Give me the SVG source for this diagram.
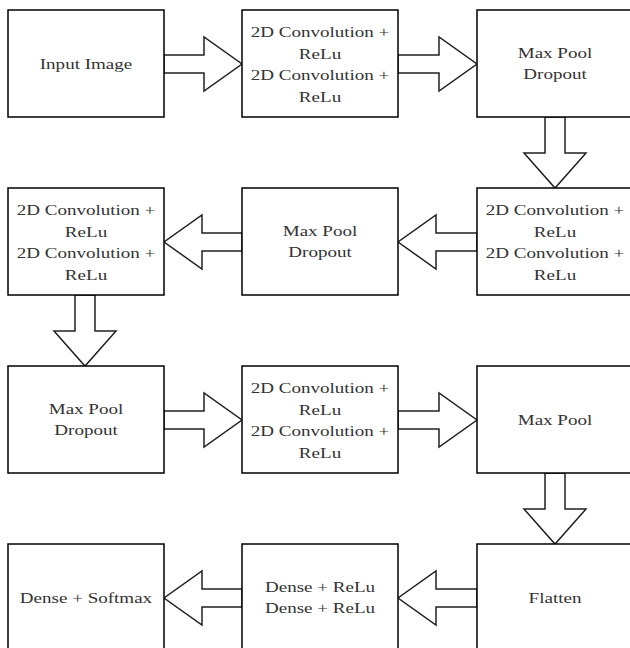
<svg xmlns="http://www.w3.org/2000/svg" width="630" height="648" viewBox="0 0 630 648">
<style>
.box{fill:#fff;stroke:#000;stroke-width:1.5}
.arr{fill:#fff;stroke:#222;stroke-width:1.5;stroke-linejoin:miter}
text{font-family:"Liberation Serif","Times New Roman",serif;font-size:15px;fill:#333;text-anchor:middle}
</style>
<rect width="630" height="648" fill="#fff"/>
<g id="connectors">
<polygon class="arr" points="164,55 204,55 204,37 242,64 204,91 204,73 164,73"/>
<polygon class="arr" points="398,55 439,55 439,37 477,64 439,91 439,73 398,73"/>
<polygon class="arr" points="545,117 545,153 524,153 555,188 586,153 565,153 565,117"/>
<polygon class="arr" points="477,233 436,233 436,215 398,242 436,269 436,251 477,251"/>
<polygon class="arr" points="242,233 202,233 202,215 164,242 202,269 202,251 242,251"/>
<polygon class="arr" points="75,295 75,331 54,331 85,366 116,331 95,331 95,295"/>
<polygon class="arr" points="164,411 204,411 204,393 242,420 204,447 204,429 164,429"/>
<polygon class="arr" points="398,411 439,411 439,393 477,420 439,447 439,429 398,429"/>
<polygon class="arr" points="545,473 545,509 524,509 555,544 586,509 565,509 565,473"/>
<polygon class="arr" points="477,589 436,589 436,571 398,598 436,625 436,607 477,607"/>
<polygon class="arr" points="242,589 202,589 202,571 164,598 202,625 202,607 242,607"/>
</g>
<g id="n1"><rect class="box" x="8" y="10" width="156" height="107"/>
<g transform="translate(86 0) scale(1.27 1)"><text x="0" y="69">Input Image</text></g></g>
<g id="n2"><rect class="box" x="242" y="10" width="156" height="107"/>
<g transform="translate(320 0) scale(1.27 1)"><text x="0" y="37.5">2D Convolution +</text><text x="0" y="59">ReLu</text><text x="0" y="80.5">2D Convolution +</text><text x="0" y="102">ReLu</text></g></g>
<g id="n3"><rect class="box" x="477" y="10" width="156" height="107"/>
<g transform="translate(555 0) scale(1.27 1)"><text x="0" y="58">Max Pool</text><text x="0" y="79.5">Dropout</text></g></g>
<g id="n4"><rect class="box" x="477" y="188" width="156" height="107"/>
<g transform="translate(555 0) scale(1.27 1)"><text x="0" y="215.5">2D Convolution +</text><text x="0" y="237">ReLu</text><text x="0" y="258.5">2D Convolution +</text><text x="0" y="280">ReLu</text></g></g>
<g id="n5"><rect class="box" x="242" y="188" width="156" height="107"/>
<g transform="translate(320 0) scale(1.27 1)"><text x="0" y="236">Max Pool</text><text x="0" y="257.5">Dropout</text></g></g>
<g id="n6"><rect class="box" x="8" y="188" width="156" height="107"/>
<g transform="translate(86 0) scale(1.27 1)"><text x="0" y="215.5">2D Convolution +</text><text x="0" y="237">ReLu</text><text x="0" y="258.5">2D Convolution +</text><text x="0" y="280">ReLu</text></g></g>
<g id="n7"><rect class="box" x="8" y="366" width="156" height="107"/>
<g transform="translate(86 0) scale(1.27 1)"><text x="0" y="414">Max Pool</text><text x="0" y="435.5">Dropout</text></g></g>
<g id="n8"><rect class="box" x="242" y="366" width="156" height="107"/>
<g transform="translate(320 0) scale(1.27 1)"><text x="0" y="393.5">2D Convolution +</text><text x="0" y="415">ReLu</text><text x="0" y="436.5">2D Convolution +</text><text x="0" y="458">ReLu</text></g></g>
<g id="n9"><rect class="box" x="477" y="366" width="156" height="107"/>
<g transform="translate(555 0) scale(1.27 1)"><text x="0" y="425">Max Pool</text></g></g>
<g id="n10"><rect class="box" x="477" y="544" width="156" height="107"/>
<g transform="translate(555 0) scale(1.27 1)"><text x="0" y="603">Flatten</text></g></g>
<g id="n11"><rect class="box" x="242" y="544" width="156" height="107"/>
<g transform="translate(320 0) scale(1.27 1)"><text x="0" y="592">Dense + ReLu</text><text x="0" y="613.5">Dense + ReLu</text></g></g>
<g id="n12"><rect class="box" x="8" y="544" width="156" height="107"/>
<g transform="translate(86 0) scale(1.27 1)"><text x="0" y="603">Dense + Softmax</text></g></g>
</svg>
